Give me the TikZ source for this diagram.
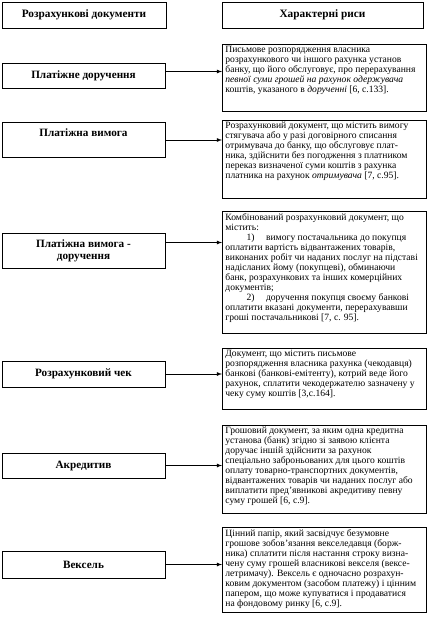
\documentclass[tikz,border=0pt]{standalone}
\usepackage{fontspec}
\setmainfont{Liberation Serif}
\usetikzlibrary{arrows,positioning}

\begin{document}
\begin{tikzpicture}[x=1pt,y=-1pt,>=latex,
  hbox/.style={draw,line width=0.8pt,minimum height=26pt,font=\fontsize{11.3}{12}\selectfont\bfseries},
  lbox/.style={draw,line width=0.8pt,minimum width=163pt,align=center,font=\fontsize{11.2}{12}\selectfont\bfseries},
  rbox/.style={draw,line width=0.8pt,anchor=north west,inner xsep=3pt,inner ysep=2pt,font=\fontsize{9.6}{10}\selectfont}]
\useasboundingbox (0,0) rectangle (429,618);

% headings
\node[hbox,minimum width=164pt](hdoc) at (84,15){Розрахункові документи};
\node[hbox,minimum width=201pt](hris) at (322.5,15){Характерні риси};

% documents
\node[lbox,minimum height=25pt](pdor) at (83.5,75.5){Платіжне доручення};
\node[lbox,minimum height=34pt,text height=10pt,text depth=18pt](pvym) at (83.5,140){Платіжна вимога};
\node[lbox,minimum height=35pt](pvdor) at (83.5,250.5){Платіжна вимога -\\доручення};
\node[lbox,minimum height=26pt](chek) at (83.5,374){Розрахунковий чек};
\node[lbox,minimum height=25pt](akr) at (83.5,465.5){Акредитив};
\node[lbox,minimum height=27pt](veks) at (83.5,564.5){Вексель};

% features
\node[rbox](rpdor) at (222,44){\parbox[c][63pt][t]{198pt}{\raggedright
Письмове розпорядження  власника\\
розрахункового чи іншого рахунка установ\\
банку, що його обслуговує, про перерахування\\
\textit{певної суми грошей на рахунок одержувача}\\
коштів, указаного в \textit{дорученні} [6, с.133].}};
\node[rbox](rpvym) at (222,120){\parbox[c][74pt][t]{198pt}{\raggedright
Розрахунковий документ, що містить вимогу\\
стягувача або у разі договірного списання\\
отримувача до банку, що обслуговує плат-\\
ника, здійснити  без погодження з платником\\
переказ визначеної суми коштів з рахунка\\
платника на рахунок \textit{отримувача}  [7, с.95].}};
\node[rbox](rpvdor) at (222,211){\parbox[c][118pt][t]{198pt}{\raggedright
Комбінований розрахунковий документ, що\\
містить:\\
\hspace*{2.2em}1)\hspace{1.2em}вимогу постачальника до покупця\\
оплатити вартість відвантажених товарів,\\
виконаних робіт чи наданих послуг на підставі\\
надісланих йому (покупцеві), обминаючи\\
банк, розрахункових та інших комерційних\\
документів;\\
\hspace*{2.2em}2)\hspace{1.2em}доручення покупця своєму банкові\\
оплатити вказані документи, перерахувавши\\
гроші постачальникові  [7, с. 95].}};
\node[rbox](rchek) at (222,348){\parbox[c][57pt][t]{198pt}{\raggedright
Документ, що містить письмове\\
розпорядження власника рахунка (чекодавця)\\
банкові (банкові-емітенту), котрий веде його\\
рахунок, сплатити чекодержателю зазначену у\\
чеку суму коштів  [3,с.164].}};
\node[rbox](rakr) at (222,425){\parbox[c][84pt][t]{198pt}{\raggedright
Грошовий документ, за яким одна кредитна\\
установа (банк) згідно зі заявою клієнта\\
доручає іншій здійснити за рахунок\\
спеціально заброньованих для цього коштів\\
оплату товарно-транспортних документів,\\
відвантажених товарів чи наданих послуг або\\
виплатити пред’явникові акредитиву певну\\
суму грошей [6, с.9].}};
\node[rbox](rveks) at (222,527){\parbox[c][81pt][t]{198pt}{\raggedright
Цінний папір, який засвідчує безумовне\\
грошове зобов’язання векселедавця (борж-\\
ника) сплатити після настання строку визна-\\
чену суму грошей власникові векселя (вексе-\\
летримачу). Вексель є одночасно розрахун-\\
ковим документом (засобом платежу) і цінним\\
папером, що може купуватися і продаватися\\
на фондовому ринку [6, с.9].}};

% connectors
\draw[->,line width=0.8pt]([yshift=4pt]pdor.east)--([yshift=4pt]pdor.east -| rpdor.west);
\draw[->,line width=0.8pt](pvym.east)--(pvym.east -| rpvym.west);
\draw[->,line width=0.8pt]([yshift=8pt]pvdor.east)--([yshift=8pt]pvdor.east -| rpvdor.west);
\draw[->,line width=0.8pt](chek.east)--(chek.east -| rchek.west);
\draw[->,line width=0.8pt](akr.east)--(akr.east -| rakr.west);
\draw[->,line width=0.8pt](veks.east)--(veks.east -| rveks.west);
\end{tikzpicture}
\end{document}
